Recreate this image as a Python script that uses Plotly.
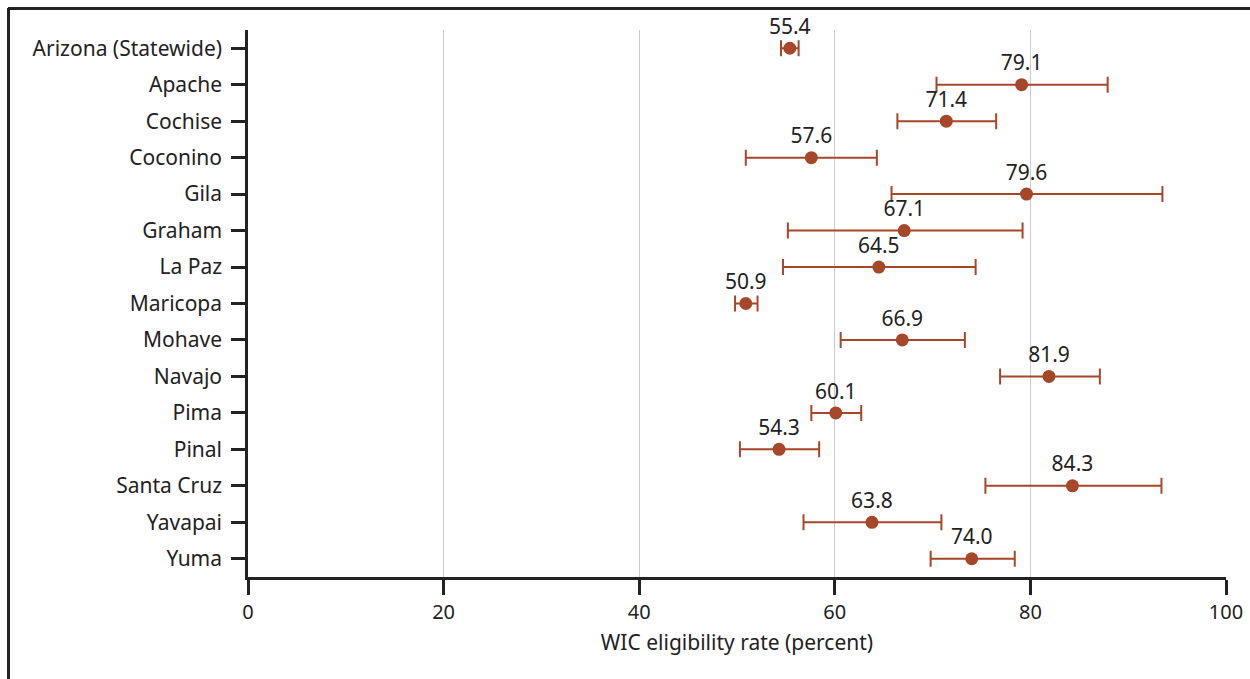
import plotly.graph_objects as go

categories = ["Arizona (Statewide)", "Apache", "Cochise", "Coconino", "Gila", "Graham",
              "La Paz", "Maricopa", "Mohave", "Navajo", "Pima", "Pinal", "Santa Cruz",
              "Yavapai", "Yuma"]
rates = [55.4, 79.1, 71.4, 57.6, 79.6, 67.1, 64.5, 50.9, 66.9, 81.9, 60.1, 54.3, 84.3, 63.8, 74.0]
lower = [54.5, 70.4, 66.4, 50.9, 65.8, 55.2, 54.7, 49.8, 60.6, 76.9, 57.6, 50.3, 75.4, 56.8, 69.8]
upper = [56.3, 87.9, 76.5, 64.3, 93.5, 79.2, 74.4, 52.1, 73.3, 87.1, 62.7, 58.4, 93.4, 70.9, 78.4]
labels = [f"{v:.1f}" for v in rates]
x_ticks = [0, 20, 40, 60, 80, 100]

color = "#a6472a"
font_family = "'Noto Sans', sans-serif"

fig = go.Figure()
fig.add_trace(go.Scatter(
    x=rates, y=categories, mode="markers+text",
    text=labels, textposition="top center",
    textfont=dict(size=21, color="#222222", family=font_family),
    marker=dict(color=color, size=13),
    error_x=dict(type="data", symmetric=False,
                 array=[u - r for u, r in zip(upper, rates)],
                 arrayminus=[r - l for r, l in zip(rates, lower)],
                 color=color, thickness=2, width=8),
    cliponaxis=False, showlegend=False,
))

L, R, T, B = 248, 24, 30, 102
W, H = 1250, 679
pw, ph = W - L - R, H - T - B

def px_x(p):
    return (p - L) / pw

def px_y(p):
    return 1 - (p - T) / ph

fig.update_layout(
    width=W, height=H,
    margin=dict(l=L, r=R, t=T, b=B, autoexpand=False),
    paper_bgcolor="white", plot_bgcolor="white",
    font=dict(family=font_family, size=21, color="#222222"),
    xaxis=dict(range=[0, 100], tickvals=x_ticks, showgrid=True, gridcolor="#cccccc",
               gridwidth=1, zeroline=False, showline=True, linecolor="#222222", linewidth=2.5,
               ticks="outside", ticklen=15, tickwidth=2.5, tickcolor="#222222",
               automargin=False,
               tickfont=dict(size=20), title=dict(text="WIC eligibility rate (percent)",
                                                  font=dict(size=21), standoff=12)),
    yaxis=dict(range=[len(categories) - 0.5, -0.5], showgrid=False, zeroline=False,
               showline=True, linecolor="#222222", linewidth=2.5, ticks="outside",
               ticklen=14, tickwidth=2.5, tickcolor="#222222", tickfont=dict(size=21),
               ticklabelstandoff=5, automargin=False),
    shapes=[
        dict(type="line", xref="paper", yref="paper", x0=px_x(8), x1=px_x(1250),
             y0=px_y(8.5), y1=px_y(8.5), line=dict(color="#222222", width=3)),
        dict(type="line", xref="paper", yref="paper", x0=px_x(8.5), x1=px_x(8.5),
             y0=px_y(8), y1=px_y(679), line=dict(color="#222222", width=3)),
    ],
)

fig.write_html("out.html")
